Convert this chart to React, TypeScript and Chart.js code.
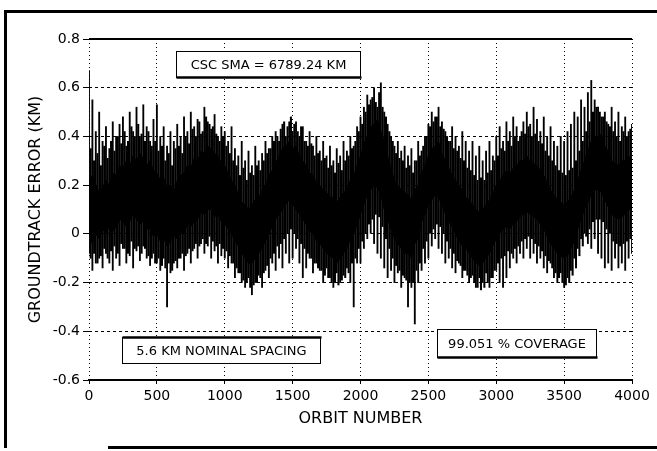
import React, { useEffect, useRef } from "react";
import { Chart, registerables } from "chart.js";

Chart.register(...registerables);

// ---- data ----
const xTicks = [0, 500, 1000, 1500, 2000, 2500, 3000, 3500, 4000];
const yTicks = [-0.6, -0.4, -0.2, 0, 0.2, 0.4, 0.6, 0.8];

// dense black core of the groundtrack error, every 25 orbits (0..4000)
const coreStep = 25;
const coreHigh = [
  0.22, 0.24, 0.2, 0.17, 0.19, 0.22, 0.2, 0.25, 0.24, 0.28, 0.27, 0.3, 0.28, 0.32, 0.3, 0.33, 0.31, 0.28, 0.3, 0.26,
  0.25, 0.22, 0.23, 0.19, 0.2, 0.17, 0.22, 0.24, 0.25, 0.28, 0.27, 0.31, 0.3, 0.34, 0.33, 0.36, 0.35, 0.33, 0.32, 0.29,
  0.28, 0.25, 0.22, 0.2, 0.16, 0.13, 0.12, 0.1, 0.12, 0.14, 0.15, 0.18, 0.2, 0.24, 0.26, 0.29, 0.32, 0.35, 0.36, 0.38,
  0.35, 0.36, 0.32, 0.3, 0.28, 0.25, 0.24, 0.21, 0.2, 0.18, 0.17, 0.15, 0.15, 0.13, 0.15, 0.17, 0.18, 0.22, 0.24, 0.28,
  0.32, 0.37, 0.4, 0.44, 0.45, 0.47, 0.42, 0.38, 0.32, 0.27, 0.22, 0.2, 0.18, 0.17, 0.16, 0.14, 0.18, 0.2, 0.25, 0.28,
  0.32, 0.35, 0.36, 0.38, 0.33, 0.3, 0.27, 0.24, 0.22, 0.2, 0.18, 0.15, 0.14, 0.12, 0.1, 0.09, 0.1, 0.12, 0.14, 0.17,
  0.2, 0.22, 0.24, 0.26, 0.25, 0.27, 0.28, 0.3, 0.3, 0.32, 0.3, 0.29, 0.28, 0.26, 0.24, 0.21, 0.18, 0.16, 0.14, 0.13,
  0.12, 0.13, 0.15, 0.18, 0.22, 0.26, 0.3, 0.34, 0.38, 0.4, 0.4, 0.41, 0.36, 0.34, 0.3, 0.29, 0.28, 0.3, 0.3, 0.32,
  0.3,
];
const coreLow = [
  0.0, -0.04, 0.0, -0.02, 0.02, 0.0, 0.03, 0.01, 0.03, 0.06, 0.05, 0.03, 0.05, 0.08, 0.06, 0.04, 0.05, 0.02, 0.02, -0.01,
  0.0, -0.03, -0.02, -0.05, -0.03, -0.01, -0.02, 0.01, 0.0, 0.04, 0.03, 0.05, 0.06, 0.09, 0.08, 0.1, 0.1, 0.07, 0.08, 0.05,
  0.04, 0.02, 0.0, -0.03, -0.05, -0.08, -0.1, -0.12, -0.12, -0.1, -0.08, -0.06, -0.03, 0.0, 0.03, 0.06, 0.08, 0.1, 0.12, 0.14,
  0.12, 0.1, 0.08, 0.06, 0.04, 0.01, 0.0, -0.03, -0.04, -0.06, -0.08, -0.09, -0.1, -0.12, -0.1, -0.08, -0.06, -0.02, 0.0, 0.04,
  0.08, 0.12, 0.16, 0.18, 0.2, 0.19, 0.16, 0.1, 0.06, 0.02, -0.02, -0.04, -0.06, -0.08, -0.08, -0.1, -0.04, -0.02, 0.05, 0.08,
  0.12, 0.14, 0.16, 0.15, 0.12, 0.08, 0.05, 0.03, 0.0, -0.03, -0.05, -0.06, -0.08, -0.1, -0.12, -0.13, -0.12, -0.1, -0.08, -0.05,
  -0.02, 0.0, 0.02, 0.03, 0.02, 0.04, 0.05, 0.07, 0.08, 0.09, 0.08, 0.07, 0.06, 0.04, 0.02, -0.01, -0.04, -0.06, -0.08, -0.09,
  -0.1, -0.09, -0.06, -0.03, 0.02, 0.06, 0.1, 0.13, 0.16, 0.18, 0.18, 0.17, 0.14, 0.11, 0.08, 0.07, 0.06, 0.07, 0.08, 0.1,
  0.1,
];

// long spikes (extremes), every 25 orbits (0..4000)
const spikeStep = 25;
const spikeHigh = [
  0.67, 0.55, 0.42, 0.5, 0.38, 0.44, 0.35, 0.46, 0.4, 0.45, 0.48, 0.36, 0.5, 0.42, 0.52, 0.4, 0.53, 0.44, 0.38, 0.47,
  0.53, 0.4, 0.44, 0.36, 0.42, 0.38, 0.45, 0.4, 0.48, 0.42, 0.5, 0.44, 0.47, 0.41, 0.52, 0.46, 0.43, 0.49, 0.4, 0.44,
  0.42, 0.38, 0.44, 0.35, 0.32, 0.38, 0.3, 0.34, 0.28, 0.36, 0.3, 0.33, 0.38, 0.35, 0.4, 0.42, 0.38, 0.45, 0.4, 0.46,
  0.42, 0.46, 0.4, 0.44, 0.38, 0.42, 0.36, 0.4, 0.34, 0.38, 0.32, 0.36, 0.3, 0.35, 0.32, 0.38, 0.34, 0.4, 0.36, 0.44,
  0.48, 0.52, 0.57, 0.55, 0.6, 0.52, 0.62, 0.5, 0.45, 0.4, 0.36, 0.38, 0.34, 0.36, 0.32, 0.35, 0.3, 0.38, 0.34, 0.4,
  0.45, 0.5, 0.48, 0.52, 0.46, 0.42, 0.38, 0.44, 0.4, 0.36, 0.42, 0.38, 0.34, 0.38, 0.32, 0.36, 0.3, 0.34, 0.38, 0.32,
  0.4, 0.44, 0.38, 0.46, 0.42, 0.48, 0.44, 0.4, 0.46, 0.5, 0.45, 0.52, 0.47, 0.42, 0.48, 0.4, 0.44, 0.38, 0.36, 0.4,
  0.38, 0.42, 0.45, 0.5, 0.48, 0.55, 0.52, 0.58, 0.63, 0.55, 0.52, 0.48, 0.5, 0.45, 0.52, 0.46, 0.5, 0.44, 0.48, 0.42,
  0.45,
];
const spikeLow = [
  -0.08, -0.15, -0.12, -0.1, -0.14, -0.08, -0.12, -0.15, -0.1, -0.13, -0.06, -0.12, -0.09, -0.14, -0.07, -0.11, -0.05, -0.1, -0.13, -0.08,
  -0.12, -0.15, -0.1, -0.3, -0.16, -0.12, -0.14, -0.1, -0.15, -0.08, -0.12, -0.06, -0.1, -0.04, -0.08, -0.05, -0.1, -0.07, -0.12, -0.09,
  -0.1, -0.14, -0.12, -0.18, -0.16, -0.2, -0.22, -0.18, -0.25, -0.2, -0.17, -0.22, -0.15, -0.18, -0.12, -0.15, -0.1, -0.14, -0.08, -0.12,
  -0.1, -0.06, -0.12, -0.18, -0.14, -0.1, -0.16, -0.12, -0.15, -0.2, -0.14, -0.18, -0.22, -0.16, -0.2, -0.17, -0.14, -0.2, -0.3, -0.12,
  -0.12, -0.06, -0.02, 0.0, -0.04, -0.08, -0.1, -0.14, -0.18, -0.15, -0.2, -0.16, -0.22, -0.18, -0.3, -0.22, -0.37, -0.2, -0.15, -0.12,
  -0.1, -0.05, -0.02, -0.06, -0.08, -0.12, -0.1, -0.14, -0.16, -0.12, -0.18, -0.15, -0.2, -0.17, -0.22, -0.18, -0.2, -0.16, -0.22, -0.18,
  -0.15, -0.2, -0.22, -0.18, -0.14, -0.1, -0.12, -0.08, -0.1, -0.06, -0.1, -0.08, -0.12, -0.1, -0.14, -0.16, -0.12, -0.18, -0.2, -0.16,
  -0.22, -0.18, -0.15, -0.1, -0.06, -0.02, 0.0, -0.04, -0.06, -0.02, -0.08, -0.1, -0.14, -0.12, -0.15, -0.1, -0.14, -0.12, -0.15, -0.1,
  -0.08,
];

// medium spikes between the long ones, at orbits 12.5 + 25*i
const midStart = 12.5;
const midHigh = [
  0.35, 0.3, 0.33, 0.28, 0.36, 0.31, 0.38, 0.34, 0.4, 0.37, 0.42, 0.38, 0.44, 0.4, 0.45, 0.41, 0.38, 0.42, 0.36, 0.38,
  0.34, 0.36, 0.3, 0.33, 0.28, 0.35, 0.36, 0.33, 0.4, 0.37, 0.43, 0.4, 0.46, 0.42, 0.48, 0.45, 0.44, 0.41, 0.38, 0.4,
  0.36, 0.33, 0.3, 0.28, 0.24, 0.27, 0.22, 0.25, 0.24, 0.28, 0.26, 0.3, 0.33, 0.35, 0.38, 0.4, 0.43, 0.46, 0.44, 0.48,
  0.45, 0.42, 0.44, 0.38, 0.36, 0.37, 0.32, 0.33, 0.3, 0.31, 0.27, 0.28, 0.25, 0.29, 0.26, 0.3, 0.32, 0.35, 0.38, 0.42,
  0.45, 0.5, 0.53, 0.56, 0.54, 0.58, 0.52, 0.48, 0.42, 0.38, 0.33, 0.31, 0.3, 0.27, 0.28, 0.25, 0.3, 0.32, 0.36, 0.4,
  0.44, 0.46, 0.48, 0.44, 0.43, 0.4, 0.38, 0.35, 0.34, 0.31, 0.3, 0.27, 0.26, 0.24, 0.22, 0.23, 0.22, 0.25, 0.26, 0.3,
  0.32, 0.35, 0.34, 0.38, 0.36, 0.4, 0.38, 0.42, 0.41, 0.44, 0.4, 0.41, 0.38, 0.37, 0.34, 0.32, 0.3, 0.28, 0.26, 0.25,
  0.24, 0.26, 0.27, 0.3, 0.34, 0.38, 0.42, 0.46, 0.5, 0.52, 0.5, 0.48, 0.46, 0.44, 0.42, 0.4, 0.38, 0.42, 0.4, 0.43,
];
const midLow = [
  -0.1, -0.08, -0.12, -0.09, -0.06, -0.1, -0.07, -0.05, -0.08, -0.04, -0.06, -0.08, -0.03, -0.06, -0.05, -0.08, -0.06, -0.09, -0.1, -0.12,
  -0.1, -0.13, -0.14, -0.12, -0.15, -0.11, -0.1, -0.08, -0.09, -0.06, -0.07, -0.04, -0.05, -0.02, -0.04, -0.01, -0.03, -0.05, -0.04, -0.06,
  -0.07, -0.09, -0.12, -0.14, -0.16, -0.19, -0.2, -0.22, -0.21, -0.2, -0.18, -0.16, -0.13, -0.1, -0.08, -0.05, -0.04, -0.02, 0.0, 0.02,
  0.0, -0.02, -0.04, -0.06, -0.08, -0.1, -0.12, -0.14, -0.15, -0.17, -0.18, -0.2, -0.2, -0.21, -0.19, -0.18, -0.16, -0.12, -0.1, -0.06,
  -0.03, 0.0, 0.04, 0.06, 0.08, 0.07, 0.03, -0.02, -0.06, -0.1, -0.13, -0.15, -0.17, -0.19, -0.2, -0.2, -0.15, -0.12, -0.06, -0.03,
  0.0, 0.02, 0.04, 0.03, 0.0, -0.03, -0.06, -0.08, -0.11, -0.13, -0.15, -0.17, -0.18, -0.2, -0.22, -0.23, -0.22, -0.2, -0.18, -0.15,
  -0.12, -0.1, -0.09, -0.07, -0.08, -0.06, -0.05, -0.03, -0.02, -0.01, -0.02, -0.04, -0.05, -0.07, -0.09, -0.11, -0.14, -0.16, -0.18, -0.2,
  -0.21, -0.2, -0.17, -0.14, -0.09, -0.05, -0.01, 0.02, 0.05, 0.06, 0.06, 0.05, 0.02, 0.0, -0.03, -0.04, -0.05, -0.04, -0.03, -0.02,
];

const noteTexts = ["CSC SMA = 6789.24 KM", "5.6 KM NOMINAL SPACING", "99.051 % COVERAGE"];

// ---- presentation ----
const FONT = '"DejaVu Sans", "Liberation Sans", Arial, sans-serif';

// annotation boxes, in data units (orbit, km)
const noteBoxes = [
  { x0: 640, x1: 1996, y0: 0.751, y1: 0.644, heavy: "bottom" },
  { x0: 243, x1: 1702, y0: -0.423, y1: -0.53, heavy: "top" },
  { x0: 2564, x1: 3735, y0: -0.39, y1: -0.505, heavy: "bottom" },
];

const fmtY = (v: number) => {
  const r = Math.round(v * 10) / 10;
  return r === 0 ? "0" : r.toFixed(1);
};

const decorPlugin = {
  id: "decor",
  afterDraw(chart: any) {
    const { ctx, chartArea, scales } = chart;
    const x = scales.x;
    const y = scales.y;
    ctx.save();
    ctx.strokeStyle = "#000";
    // outer figure frame
    ctx.lineWidth = 3;
    ctx.beginPath();
    ctx.moveTo(5.5, 448);
    ctx.lineTo(5.5, 11.5);
    ctx.lineTo(657, 11.5);
    ctx.moveTo(108, 447.5);
    ctx.lineTo(657, 447.5);
    ctx.stroke();
    // solid top edge of the plot
    ctx.lineWidth = 2;
    ctx.beginPath();
    ctx.moveTo(chartArea.left, chartArea.top);
    ctx.lineTo(chartArea.right, chartArea.top);
    ctx.stroke();
    // annotation boxes
    noteBoxes.forEach((b, i) => {
      const l = Math.round(x.getPixelForValue(b.x0)) + 0.5;
      const r = Math.round(x.getPixelForValue(b.x1)) + 0.5;
      const t = Math.round(y.getPixelForValue(b.y0)) + 0.5;
      const btm = Math.round(y.getPixelForValue(b.y1)) + 0.5;
      ctx.fillStyle = "#fff";
      ctx.fillRect(l, t, r - l, btm - t);
      ctx.lineWidth = 1;
      ctx.strokeStyle = "#000";
      ctx.strokeRect(l, t, r - l, btm - t);
      ctx.lineWidth = 2.5;
      ctx.beginPath();
      if (b.heavy === "bottom") {
        ctx.moveTo(l, btm);
        ctx.lineTo(r + 1, btm);
      } else {
        ctx.moveTo(l, t);
        ctx.lineTo(r + 1, t);
      }
      ctx.stroke();
      ctx.fillStyle = "#000";
      ctx.font = `13px ${FONT}`;
      ctx.textAlign = "center";
      ctx.textBaseline = "middle";
      ctx.fillText(noteTexts[i], (l + r) / 2, (t + btm) / 2 + 1);
    });
    ctx.restore();
  },
};

export default function App() {
  const ref = useRef<HTMLCanvasElement>(null);

  useEffect(() => {
    document.body.style.margin = "0";
    const canvas = ref.current;
    if (!canvas) return;

    const spikeData = spikeHigh.map((h, i) => ({ x: i * spikeStep, y: [spikeLow[i], h] }));
    const midData = midHigh.map((h, i) => ({ x: midStart + i * spikeStep, y: [midLow[i], h] }));
    const lowData = coreLow.map((v, i) => ({ x: i * coreStep, y: v }));
    const highData = coreHigh.map((v, i) => ({ x: i * coreStep, y: v }));

    const chart = new Chart(canvas, {
      type: "bar",
      data: {
        datasets: [
          {
            type: "bar",
            label: "long spikes",
            data: spikeData as any,
            backgroundColor: "#000",
            borderWidth: 0,
            barThickness: 1.2,
            grouped: false,
          } as any,
          {
            type: "bar",
            label: "medium spikes",
            data: midData as any,
            backgroundColor: "#000",
            borderWidth: 0,
            barThickness: 1.4,
            grouped: false,
          } as any,
          {
            type: "line",
            label: "core low",
            data: lowData,
            borderColor: "#000",
            borderWidth: 1,
            pointRadius: 0,
            tension: 0,
            fill: false,
          } as any,
          {
            type: "line",
            label: "core high",
            data: highData,
            borderColor: "#000",
            backgroundColor: "#000",
            borderWidth: 1,
            pointRadius: 0,
            tension: 0,
            fill: 2,
          } as any,
        ],
      },
      options: {
        responsive: false,
        animation: false,
        devicePixelRatio: 1,
        layout: { padding: { left: 0, right: 25, top: 39, bottom: 15 } },
        plugins: {
          legend: { display: false },
          tooltip: { enabled: false },
        },
        scales: {
          x: {
            type: "linear",
            min: 0,
            max: 4000,
            offset: false,
            afterFit: (s: any) => {
              s.height = 56;
            },
            afterBuildTicks: (s: any) => {
              s.ticks = xTicks.map((v) => ({ value: v }));
            },
            grid: {
              offset: false,
              color: "#000",
              lineWidth: 1,
              tickLength: 4,
              tickColor: "#000",
            },
            border: { display: true, color: "#000", width: 2, dash: [1, 3] },
            ticks: {
              color: "#000",
              font: { family: FONT, size: 14 },
              padding: 4,
              maxRotation: 0,
              callback: (v: any) => String(v),
            },
            title: {
              display: true,
              text: "ORBIT NUMBER",
              color: "#000",
              font: { family: FONT, size: 16 },
              padding: { top: 0, bottom: 8 },
            },
          },
          y: {
            type: "linear",
            min: -0.6,
            max: 0.8,
            afterFit: (s: any) => {
              s.width = 89;
            },
            afterBuildTicks: (s: any) => {
              s.ticks = yTicks.map((v) => ({ value: v }));
            },
            grid: {
              color: "#000",
              lineWidth: 1,
              tickLength: 6,
              tickColor: "#000",
            },
            border: { display: false, dash: [3, 3] },
            ticks: {
              color: "#000",
              font: { family: FONT, size: 14 },
              padding: 3,
              callback: (v: any) => fmtY(Number(v)),
            },
            title: {
              display: true,
              text: "GROUNDTRACK ERROR (KM)",
              color: "#000",
              font: { family: FONT, size: 16 },
              padding: { top: 26, bottom: 0 },
            },
          },
        },
      },
      plugins: [decorPlugin],
    } as any);

    return () => chart.destroy();
  }, []);

  return (
    <div style={{ width: 657, height: 451 }}>
      <canvas ref={ref} width={657} height={451} style={{ display: "block" }} />
    </div>
  );
}
